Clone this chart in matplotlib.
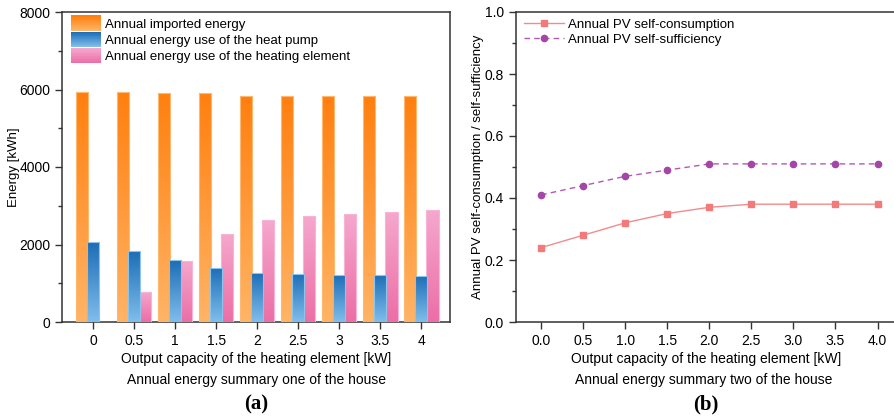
import matplotlib
matplotlib.use("Agg")
import matplotlib.pyplot as plt
import numpy as np
from matplotlib.colors import LinearSegmentedColormap, to_rgb
from matplotlib.patches import Rectangle
from matplotlib.legend_handler import HandlerBase
from matplotlib.ticker import MultipleLocator

plt.rcParams['font.family'] = ['Liberation Sans', 'DejaVu Sans']
plt.rcParams['font.size'] = 10

# data
capacity_labels = ["0", "0.5", "1", "1.5", "2", "2.5", "3", "3.5", "4"]
capacity = [0.0, 0.5, 1.0, 1.5, 2.0, 2.5, 3.0, 3.5, 4.0]
imported = [5940, 5940, 5920, 5910, 5840, 5840, 5840, 5840, 5840]
heat_pump = [2060, 1830, 1600, 1395, 1265, 1240, 1215, 1215, 1190]
heating_element = [0, 775, 1575, 2280, 2630, 2735, 2790, 2840, 2890]
self_consumption = [0.24, 0.28, 0.32, 0.35, 0.37, 0.38, 0.38, 0.38, 0.38]
self_sufficiency = [0.41, 0.44, 0.47, 0.49, 0.51, 0.51, 0.51, 0.51, 0.51]

# gradients (top colour, bottom colour)
grad_orange = ("#FF7F0E", "#FFB466")
grad_blue = ("#1C6DB6", "#80BEEC")
grad_pink = ("#F5A8CD", "#EC6EA6")
edge_orange = "#FFB870"
edge_blue = "#8CC4EE"
edge_pink = "#F7B4D4"


def gradient_bars(ax, bars, grad):
    cmap = LinearSegmentedColormap.from_list("g", [grad[1], grad[0]])
    img = np.linspace(0, 1, 256).reshape(-1, 1)
    for b in bars:
        x0, y0 = b.get_x(), b.get_y()
        w, h = b.get_width(), b.get_height()
        if h <= 0:
            continue
        im = ax.imshow(img, cmap=cmap, origin="lower", aspect="auto",
                       extent=[x0, x0 + w, y0, y0 + h], zorder=b.get_zorder() - 0.1)
        im.set_clip_path(b)


class GradientHandler(HandlerBase):
    def __init__(self, grad, n=20):
        super().__init__()
        self.grad = grad
        self.n = n

    def create_artists(self, legend, orig_handle, xdescent, ydescent,
                       width, height, fontsize, trans):
        top = np.array(to_rgb(self.grad[0]))
        bot = np.array(to_rgb(self.grad[1]))
        arts = []
        hh = height * 1.6
        y0 = -ydescent - (hh - height) / 2
        for i in range(self.n):
            f = i / (self.n - 1)
            c = bot * (1 - f) + top * f
            r = Rectangle((-xdescent, y0 + i * hh / self.n), width, hh / self.n + 0.3,
                          facecolor=c, edgecolor="none", transform=trans)
            arts.append(r)
        return arts


fig = plt.figure(figsize=(8.94, 4.17), dpi=100)
ax1 = fig.add_axes([62 / 894, 1 - 322 / 417, 388 / 894, 310 / 417])
ax2 = fig.add_axes([516 / 894, 1 - 322 / 417, 380 / 894, 310 / 417])

spine_col = "#333333"

#left chart
x = np.arange(len(capacity_labels))
w = 0.30
off = 0.27
b1 = ax1.bar(x - off, imported, w, color="none", edgecolor=edge_orange, linewidth=0.8, zorder=3)
b2 = ax1.bar(x, heat_pump, w, color="none", edgecolor=edge_blue, linewidth=0.8, zorder=4)
b3 = ax1.bar(x + off, heating_element, w, color="none", edgecolor=edge_pink, linewidth=0.8, zorder=3)
gradient_bars(ax1, b1, grad_orange)
gradient_bars(ax1, b2, grad_blue)
gradient_bars(ax1, b3, grad_pink)

ax1.set_xlim(-0.76, 8.7)
ax1.set_ylim(0, 8000)
ax1.set_xticks(x)
ax1.set_xticklabels(capacity_labels)
ax1.yaxis.set_major_locator(MultipleLocator(2000))
ax1.yaxis.set_minor_locator(MultipleLocator(1000))
ax1.set_ylabel("Energy [kWh]", fontsize=9.5)
ax1.yaxis.set_label_coords(-0.108, 0.5)
ax1.set_xlabel("Output capacity of the heating element [kW]", fontsize=10, labelpad=3)
ax1.text(0.5, -0.163, "Annual energy summary one of the house", transform=ax1.transAxes,
         ha="center", va="top", fontsize=10)
ax1.text(0.5, -0.235, "(a)", transform=ax1.transAxes, ha="center", va="top",
         fontsize=15, fontweight="bold", family="Liberation Serif")

ax1.legend([b1, b2, b3],
           ["Annual imported energy", "Annual energy use of the heat pump",
            "Annual energy use of the heating element"],
           handler_map={b1: GradientHandler(grad_orange), b2: GradientHandler(grad_blue),
                        b3: GradientHandler(grad_pink)},
           loc="upper left", frameon=False, fontsize=9.5, handlelength=2.3,
           handletextpad=0.3, labelspacing=0.3, borderaxespad=0.1,
           bbox_to_anchor=(0.005, 1.0))

#right chart
ax2.plot(capacity, self_consumption, color="#F28C8C", lw=1.0, marker="s", ms=4.5,
         mfc="#F27A7A", mec="#F27A7A", label="Annual PV self-consumption")
ax2.plot(capacity, self_sufficiency, color="#B458B4", lw=1.0, ls=(0, (4, 3)), marker="o", ms=4.5,
         mfc="#A446A6", mec="#A446A6", label="Annual PV self-sufficiency")
ax2.set_xlim(-0.3, 4.22)
ax2.set_ylim(0, 1.0)
ax2.xaxis.set_major_locator(MultipleLocator(0.5))
ax2.xaxis.set_major_formatter(matplotlib.ticker.FormatStrFormatter("%.1f"))
ax2.yaxis.set_major_locator(MultipleLocator(0.2))
ax2.yaxis.set_minor_locator(MultipleLocator(0.1))
ax2.yaxis.set_major_formatter(matplotlib.ticker.FormatStrFormatter("%.1f"))
ax2.set_ylabel("Annual PV self-consumption / self-sufficiency", fontsize=9.5)
ax2.yaxis.set_label_coords(-0.085, 0.5)
ax2.set_xlabel("Output capacity of the heating element [kW]", fontsize=10, labelpad=3)
ax2.text(0.5 - 2 / 380, -0.163, "Annual energy summary two of the house", transform=ax2.transAxes,
         ha="center", va="top", fontsize=10)
ax2.text(0.5, -0.235, "(b)", transform=ax2.transAxes, ha="center", va="top",
         fontsize=15, fontweight="bold", family="Liberation Serif")
ax2.legend(loc="upper left", frameon=False, fontsize=9.5, handlelength=3.0,
           handletextpad=0.3, labelspacing=0.2, borderaxespad=0.1,
           bbox_to_anchor=(0.005, 1.0))

for ax in (ax1, ax2):
    for s in ax.spines.values():
        s.set_color(spine_col)
        s.set_linewidth(1.1)
    ax.tick_params(which="major", direction="out", length=5, width=1, color=spine_col,
                   labelsize=10, top=False, right=False)
    ax.tick_params(which="minor", direction="out", length=3, width=1, color=spine_col,
                   top=False, right=False)
    ax.tick_params(axis="x", which="minor", bottom=False)

fig.savefig("out.png", dpi=100)
